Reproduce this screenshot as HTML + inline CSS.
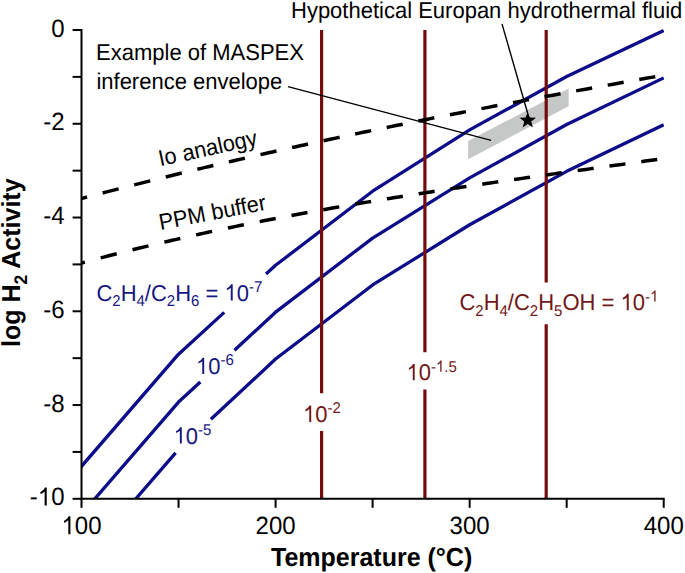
<!DOCTYPE html><html><head><meta charset="utf-8"><style>html,body{margin:0;padding:0;background:#fff;overflow:hidden}svg{display:block}text{text-rendering:geometricPrecision}</style></head><body><svg width="685" height="573" viewBox="0 0 685 573">
<defs><clipPath id="pa"><rect x="81.5" y="20" width="582.5" height="478.8"/></clipPath></defs>
<rect width="685" height="573" fill="#fff"/>
<polygon points="468.2,140.9 568.6,88.5 568.6,106.2 468.2,159.2" fill="#c6c7c7"/>
<g clip-path="url(#pa)" fill="none" stroke="#0c0c8a" stroke-width="3.3" stroke-linejoin="round">
<path d="M61.50,489.41 L81.50,466.30 L178.54,354.20 L224.20,312.36"/>
<path d="M266.00,274.07 L275.57,265.30 L372.61,191.20 L469.64,129.90 L566.67,76.50 L663.70,30.60"/>
<path d="M61.50,537.29 L81.50,514.18 L178.54,402.08 L200.30,381.92"/>
<path d="M234.50,350.23 L275.57,312.18 L372.61,238.08 L469.64,177.88 L566.67,124.48 L663.70,77.88"/>
<path d="M61.50,584.67 L81.50,561.56 L175.60,452.85"/>
<path d="M210.90,419.31 L275.57,359.06 L372.61,284.96 L469.64,224.76 L566.67,171.36 L663.70,124.76"/>
</g>
<g stroke="#740c0c" stroke-width="3.2" fill="none">
<path d="M321.6,30 V393.3 M321.6,431.0 V498.8"/>
<path d="M424.9,30 V352.2 M424.9,389.5 V498.8"/>
<path d="M546.2,30 V282.4 M546.2,324.2 V498.8"/>
</g>
<g stroke="#000" stroke-width="3.5" fill="none" clip-path="url(#pa)">
<path d="M71.07,201.31 L75.07,200.24 L79.07,199.17 L83.07,198.11 L87.07,197.05"/>
<path d="M102.64,192.96 L106.64,191.92 L110.64,190.88 L114.64,189.85 L118.64,188.82"/>
<path d="M134.20,184.85 L138.20,183.84 L142.20,182.84 L146.20,181.83 L150.20,180.83"/>
<path d="M165.77,176.98 L169.77,175.99 L173.77,175.02 L177.77,174.04 L181.77,173.07"/>
<path d="M197.34,169.32 L201.34,168.37 L205.34,167.41 L209.34,166.47 L213.34,165.52"/>
<path d="M228.90,161.87 L232.90,160.94 L236.90,160.02 L240.90,159.10 L244.90,158.18"/>
<path d="M260.47,154.63 L264.47,153.72 L268.47,152.82 L272.47,151.92 L276.47,151.03"/>
<path d="M292.04,147.57 L296.04,146.69 L300.04,145.81 L304.04,144.94 L308.04,144.06"/>
<path d="M323.61,140.69 L327.61,139.83 L331.61,138.98 L335.61,138.12 L339.61,137.27"/>
<path d="M355.17,133.98 L359.17,133.15 L363.17,132.31 L367.17,131.48 L371.17,130.65"/>
<path d="M386.74,127.43 L390.74,126.62 L394.74,125.80 L398.74,124.98 L402.74,124.17"/>
<path d="M418.31,121.03 L422.31,120.23 L426.31,119.43 L430.31,118.64 L434.31,117.84"/>
<path d="M449.88,114.77 L453.88,113.98 L457.88,113.20 L461.88,112.42 L465.88,111.64"/>
<path d="M481.44,108.63 L485.44,107.86 L489.44,107.10 L493.44,106.33 L497.44,105.57"/>
<path d="M513.01,102.61 L517.01,101.86 L521.01,101.10 L525.01,100.35 L529.01,99.60"/>
<path d="M544.58,96.70 L548.58,95.96 L552.58,95.22 L556.58,94.48 L560.58,93.74"/>
<path d="M576.15,90.88 L580.15,90.15 L584.15,89.42 L588.15,88.70 L592.15,87.97"/>
<path d="M607.71,85.15 L611.71,84.43 L615.71,83.71 L619.71,83.00 L623.71,82.28"/>
<path d="M639.28,79.50 L643.28,78.79 L647.28,78.08 L651.28,77.37 L655.28,76.66"/>
<path d="M68.91,266.51 L72.91,265.40 L76.91,264.29 L80.91,263.20 L84.91,262.11"/>
<path d="M100.70,257.89 L104.70,256.85 L108.70,255.81 L112.70,254.77 L116.70,253.75"/>
<path d="M132.50,249.77 L136.50,248.79 L140.50,247.80 L144.50,246.83 L148.50,245.86"/>
<path d="M164.30,242.11 L168.30,241.18 L172.30,240.26 L176.30,239.34 L180.30,238.43"/>
<path d="M196.09,234.89 L200.09,234.01 L204.09,233.13 L208.09,232.27 L212.09,231.40"/>
<path d="M227.89,228.06 L231.89,227.23 L235.89,226.40 L239.89,225.58 L243.89,224.77"/>
<path d="M259.69,221.60 L263.69,220.82 L267.69,220.03 L271.69,219.26 L275.69,218.48"/>
<path d="M291.49,215.49 L295.49,214.74 L299.49,214.00 L303.49,213.26 L307.49,212.52"/>
<path d="M323.28,209.67 L327.28,208.96 L331.28,208.26 L335.28,207.55 L339.28,206.86"/>
<path d="M355.08,204.14 L359.08,203.46 L363.08,202.79 L367.08,202.12 L371.08,201.45"/>
<path d="M386.88,198.85 L390.88,198.20 L394.88,197.56 L398.88,196.91 L402.88,196.27"/>
<path d="M418.67,193.78 L422.67,193.15 L426.67,192.53 L430.67,191.91 L434.67,191.29"/>
<path d="M450.47,188.89 L454.47,188.28 L458.47,187.68 L462.47,187.08 L466.47,186.48"/>
<path d="M482.27,184.15 L486.27,183.56 L490.27,182.98 L494.27,182.39 L498.27,181.81"/>
<path d="M514.06,179.53 L518.06,178.96 L522.06,178.39 L526.06,177.81 L530.06,177.24"/>
<path d="M545.86,175.01 L549.86,174.44 L553.86,173.88 L557.86,173.31 L561.86,172.75"/>
<path d="M577.66,170.54 L581.66,169.98 L585.66,169.42 L589.66,168.86 L593.66,168.30"/>
<path d="M609.46,166.10 L613.46,165.54 L617.46,164.99 L621.46,164.43 L625.46,163.87"/>
<path d="M641.25,161.66 L645.25,161.10 L649.25,160.54 L653.25,159.98 L657.25,159.42"/>
</g>
<g stroke="#000" stroke-width="1.4" fill="none">
<path d="M288,86.6 L491.1,140.4"/>
<path d="M502,23.9 L527.6,113"/>
</g>
<polygon fill="#000" points="527.75,111.70 529.90,117.44 536.02,117.71 531.23,121.53 532.86,127.44 527.75,124.05 522.64,127.44 524.27,121.53 519.48,117.71 525.60,117.44"/>
<g stroke="#000" stroke-width="2" fill="none" stroke-linecap="butt">
<path d="M81.5,29 V498.8 H664.7"/>
<path d="M72.6,30.00 H81.5"/>
<path d="M72.6,76.88 H81.5"/>
<path d="M72.6,123.76 H81.5"/>
<path d="M72.6,170.64 H81.5"/>
<path d="M72.6,217.52 H81.5"/>
<path d="M72.6,264.40 H81.5"/>
<path d="M72.6,311.28 H81.5"/>
<path d="M72.6,358.16 H81.5"/>
<path d="M72.6,405.04 H81.5"/>
<path d="M72.6,451.92 H81.5"/>
<path d="M72.6,498.80 H81.5"/>
<path d="M81.50,498.8 V507.8"/>
<path d="M178.54,498.8 V507.8"/>
<path d="M275.57,498.8 V507.8"/>
<path d="M372.61,498.8 V507.8"/>
<path d="M469.64,498.8 V507.8"/>
<path d="M566.67,498.8 V507.8"/>
<path d="M663.71,498.8 V507.8"/>
</g>
<g font-family="Liberation Sans, sans-serif" fill="#000">
<text transform="translate(64.5,36.60) scale(1,1.04)" font-size="24" text-anchor="end">0</text>
<text transform="translate(64.5,130.36) scale(1,1.04)" font-size="24" text-anchor="end">-2</text>
<text transform="translate(64.5,224.12) scale(1,1.04)" font-size="24" text-anchor="end">-4</text>
<text transform="translate(64.5,317.88) scale(1,1.04)" font-size="24" text-anchor="end">-6</text>
<text transform="translate(64.5,411.64) scale(1,1.04)" font-size="24" text-anchor="end">-8</text>
<text transform="translate(64.5,505.40) scale(1,1.04)" font-size="24" text-anchor="end">- 0</text>
<text transform="translate(81.50,534.2) scale(1,1.04)" font-size="24" text-anchor="middle"> 00</text>
<text transform="translate(275.57,534.2) scale(1,1.04)" font-size="24" text-anchor="middle">200</text>
<text transform="translate(469.64,534.2) scale(1,1.04)" font-size="24" text-anchor="middle">300</text>
<text transform="translate(663.71,534.2) scale(1,1.04)" font-size="24" text-anchor="middle">400</text>
<text transform="translate(271,565.6) scale(1,1.04)" font-size="25" font-weight="bold">Temperature (°C)</text>
<text transform="translate(19.8,347) rotate(-90) scale(1,1.04)" font-size="25" font-weight="bold">log H<tspan font-size="17.5" dy="6.7">2</tspan><tspan dy="-6.7"> Activity</tspan></text>
<text transform="translate(291,17.5) scale(1,1.04)" font-size="22">Hypothetical Europan hydrothermal fluid</text>
<text transform="translate(96.1,59.5) scale(1,1.04)" font-size="22">Example of MASPEX</text>
<text transform="translate(96.4,89.3) scale(1,1.04)" font-size="22">inference envelope</text>
<text transform="translate(160.2,166.3) rotate(-12.3) scale(1,1.04)" font-size="21.8">Io analogy</text>
<text transform="translate(160.4,230) rotate(-10.8) scale(1,1.04)" font-size="21.8">PPM buffer</text>
</g>
<text transform="translate(96.4,300.6) scale(1,1.04)" font-size="22" fill="#18187f" font-family="Liberation Sans, sans-serif"><tspan dy="0">C</tspan><tspan dy="5.4" font-size="15">2</tspan><tspan dy="-5.4">H</tspan><tspan dy="5.4" font-size="15">4</tspan><tspan dy="-5.4">/C</tspan><tspan dy="5.4" font-size="15">2</tspan><tspan dy="-5.4">H</tspan><tspan dy="5.4" font-size="15">6</tspan><tspan dy="-5.4"> =  0</tspan><tspan dy="-8.3" font-size="15">-7</tspan></text>
<text transform="translate(459.4,310.2) scale(1,1.04)" font-size="22" fill="#711818" font-family="Liberation Sans, sans-serif"><tspan dy="0">C</tspan><tspan dy="5.4" font-size="15">2</tspan><tspan dy="-5.4">H</tspan><tspan dy="5.4" font-size="15">4</tspan><tspan dy="-5.4">/C</tspan><tspan dy="5.4" font-size="15">2</tspan><tspan dy="-5.4">H</tspan><tspan dy="5.4" font-size="15">5</tspan><tspan dy="-5.4">OH =  0</tspan><tspan dy="-8.3" font-size="15">- </tspan></text>
<text transform="translate(196,374) scale(1,1.04)" font-size="22" fill="#18187f" font-family="Liberation Sans, sans-serif"><tspan dy="0"> 0</tspan><tspan dy="-8.3" font-size="15">-6</tspan></text>
<text transform="translate(173.6,443.5) scale(1,1.04)" font-size="22" fill="#18187f" font-family="Liberation Sans, sans-serif"><tspan dy="0"> 0</tspan><tspan dy="-8.3" font-size="15">-5</tspan></text>
<text transform="translate(303,421.9) scale(1,1.04)" font-size="22" fill="#711818" font-family="Liberation Sans, sans-serif"><tspan dy="0"> 0</tspan><tspan dy="-8.3" font-size="15">-2</tspan></text>
<text transform="translate(406.5,380.3) scale(1,1.04)" font-size="22" fill="#711818" font-family="Liberation Sans, sans-serif"><tspan dy="0"> 0</tspan><tspan dy="-8.3" font-size="15">- .5</tspan></text>
<path transform="translate(64.5,505.40) scale(1,1.04) translate(-26.70,0.00) scale(0.01172,-0.01172)" fill="rgb(0, 0, 0)" d="M763,0 L583,0 L583,1147 Q518,1085 413,1023 Q308,961 223,930 L223,1104 Q345,1161 436,1239 Q527,1317 565,1391 L616,1466 L763,1466 Z"/>
<path transform="translate(81.50,534.2) scale(1,1.04) translate(-20.02,0.00) scale(0.01172,-0.01172)" fill="rgb(0, 0, 0)" d="M763,0 L583,0 L583,1147 Q518,1085 413,1023 Q308,961 223,930 L223,1104 Q345,1161 436,1239 Q527,1317 565,1391 L616,1466 L763,1466 Z"/>
<path transform="translate(96.4,300.6) scale(1,1.04) translate(128.11,0.00) scale(0.01074,-0.01074)" fill="rgb(24, 24, 127)" d="M763,0 L583,0 L583,1147 Q518,1085 413,1023 Q308,961 223,930 L223,1104 Q345,1161 436,1239 Q527,1317 565,1391 L616,1466 L763,1466 Z"/>
<path transform="translate(459.4,310.2) scale(1,1.04) translate(161.11,0.00) scale(0.01074,-0.01074)" fill="rgb(113, 24, 24)" d="M763,0 L583,0 L583,1147 Q518,1085 413,1023 Q308,961 223,930 L223,1104 Q345,1161 436,1239 Q527,1317 565,1391 L616,1466 L763,1466 Z"/>
<path transform="translate(459.4,310.2) scale(1,1.04) translate(190.58,-8.30) scale(0.00732,-0.00732)" fill="rgb(113, 24, 24)" d="M763,0 L583,0 L583,1147 Q518,1085 413,1023 Q308,961 223,930 L223,1104 Q345,1161 436,1239 Q527,1317 565,1391 L616,1466 L763,1466 Z"/>
<path transform="translate(196,374) scale(1,1.04) translate(0.00,0.00) scale(0.01074,-0.01074)" fill="rgb(24, 24, 127)" d="M763,0 L583,0 L583,1147 Q518,1085 413,1023 Q308,961 223,930 L223,1104 Q345,1161 436,1239 Q527,1317 565,1391 L616,1466 L763,1466 Z"/>
<path transform="translate(173.6,443.5) scale(1,1.04) translate(0.00,0.00) scale(0.01074,-0.01074)" fill="rgb(24, 24, 127)" d="M763,0 L583,0 L583,1147 Q518,1085 413,1023 Q308,961 223,930 L223,1104 Q345,1161 436,1239 Q527,1317 565,1391 L616,1466 L763,1466 Z"/>
<path transform="translate(303,421.9) scale(1,1.04) translate(0.00,0.00) scale(0.01074,-0.01074)" fill="rgb(113, 24, 24)" d="M763,0 L583,0 L583,1147 Q518,1085 413,1023 Q308,961 223,930 L223,1104 Q345,1161 436,1239 Q527,1317 565,1391 L616,1466 L763,1466 Z"/>
<path transform="translate(406.5,380.3) scale(1,1.04) translate(0.00,0.00) scale(0.01074,-0.01074)" fill="rgb(113, 24, 24)" d="M763,0 L583,0 L583,1147 Q518,1085 413,1023 Q308,961 223,930 L223,1104 Q345,1161 436,1239 Q527,1317 565,1391 L616,1466 L763,1466 Z"/>
<path transform="translate(406.5,380.3) scale(1,1.04) translate(29.47,-8.30) scale(0.00732,-0.00732)" fill="rgb(113, 24, 24)" d="M763,0 L583,0 L583,1147 Q518,1085 413,1023 Q308,961 223,930 L223,1104 Q345,1161 436,1239 Q527,1317 565,1391 L616,1466 L763,1466 Z"/>
</svg></body></html>
